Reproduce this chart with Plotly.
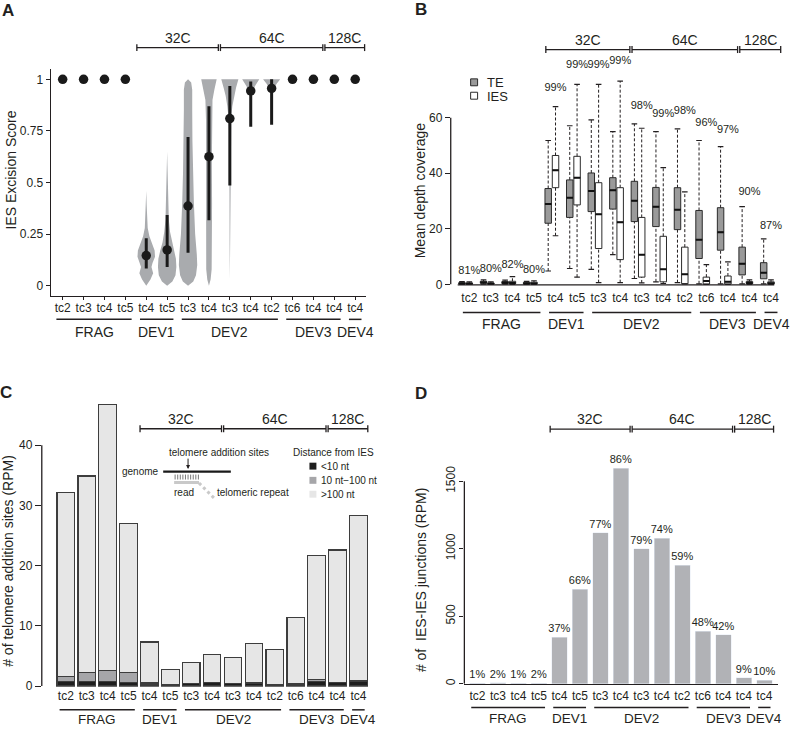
import plotly.graph_objects as go

W, H = 799, 732
FONT = "Liberation Sans, Arial, Helvetica, sans-serif"
INK = "#231f20"

samples = ["tc2", "tc3", "tc4", "tc5", "tc4", "tc5", "tc3", "tc4", "tc3", "tc4", "tc2",
           "tc6", "tc4", "tc4", "tc4"]
groups = [("FRAG", 0, 3), ("DEV1", 4, 5), ("DEV2", 6, 10), ("DEV3", 11, 13), ("DEV4", 14, 14)]
stages = [("32C", 4, 7), ("64C", 8, 12), ("128C", 13, 14)]

# ---- A: IES excision score (median dot + range line, violin outline per sample)
a_median = [1, 1, 1, 1, 0.146, 0.173, 0.386, 0.625, 0.81, 0.944, 0.956, 1, 1, 1, 1]
a_low = [None, None, None, None, 0.083, 0.091, 0.159, 0.317, 0.485, 0.77, 0.78, None, None, None, None]
a_high = [None, None, None, None, 0.23, 0.343, 0.72, 0.87, 0.968, 0.99, 1.0, None, None, None, None]
violin_y = {
    4: [0.0, 0.03, 0.06, 0.09, 0.11, 0.14, 0.17, 0.2, 0.24, 0.28, 0.33, 0.39, 0.46],
    5: [0.0, 0.02, 0.05, 0.09, 0.13, 0.17, 0.21, 0.26, 0.32, 0.4, 0.5, 0.58, 0.65],
    6: [0.0, 0.02, 0.05, 0.1, 0.15, 0.25, 0.4, 0.55, 0.7, 0.85, 0.95, 0.985, 1.0],
    7: [0.0, 0.03, 0.08, 0.2, 0.4, 0.6, 0.8, 0.9, 0.95, 0.98, 1.0],
    8: [0.03, 0.2, 0.45, 0.65, 0.75, 0.82, 0.87, 0.92, 0.96, 1.0],
    9: [0.92, 0.95, 0.975, 1.0],
    10: [0.93, 0.955, 0.98, 1.0],
}
violin_w = {
    4: [0, 0.2, 0.33, 0.25, 0.3, 0.42, 0.4, 0.3, 0.15, 0.07, 0.04, 0.02, 0],
    5: [0, 0.25, 0.4, 0.44, 0.42, 0.33, 0.22, 0.14, 0.08, 0.05, 0.03, 0.015, 0],
    6: [0, 0.25, 0.38, 0.44, 0.42, 0.34, 0.28, 0.24, 0.21, 0.2, 0.2, 0.15, 0],
    7: [0, 0.08, 0.13, 0.15, 0.15, 0.14, 0.14, 0.17, 0.26, 0.33, 0.37],
    8: [0, 0.012, 0.018, 0.025, 0.04, 0.07, 0.12, 0.2, 0.3, 0.41],
    9: [0, 0.1, 0.25, 0.41],
    10: [0, 0.1, 0.25, 0.41],
}

# ---- B: mean depth coverage, TE vs IES
pct_b = ["81%", "80%", "82%", "80%", "99%", "99%", "99%", "99%", "98%", "99%", "98%",
         "96%", "97%", "90%", "87%"]
te_low = [0, 0.1, 0.1, 0, 4.8, 5.7, 5.4, 10.7, 2.1, 0.9, 0.6, 0.2, 0.2, 0.2, 0.2]
te_q1 = [0.1, 0.4, 0.3, 0.1, 22.0, 24.1, 26.2, 27.1, 22.6, 20.8, 19.7, 9.3, 12.3, 3.4, 2.0]
te_med = [0.3, 0.7, 0.6, 0.3, 28.9, 31.2, 33.6, 33.9, 30.1, 27.9, 26.9, 16.1, 18.8, 7.4, 4.2]
te_q3 = [0.6, 1.1, 1.0, 0.7, 34.5, 37.6, 40.1, 38.4, 37.1, 34.9, 34.8, 26.6, 27.6, 13.4, 7.8]
te_high = [1.0, 1.6, 1.5, 1.1, 51.8, 57.1, 59.2, 55.0, 57.8, 55.0, 56.0, 51.8, 49.6, 28.0, 16.4]
ies_low = [0, 0, 0, 0, 17.5, 2.6, 0.6, 0.6, 0.5, 0.3, 0.2, 0, 0, 0, 0]
ies_q1 = [0.05, 0.05, 0.2, 0.1, 34.8, 28.6, 12.9, 8.9, 2.6, 0.9, 0.2, 0.1, 0.1, 0.2, 0.1]
ies_med = [0.2, 0.2, 0.5, 0.3, 41.1, 38.4, 25.2, 22.4, 10.7, 5.4, 3.6, 1.2, 0.9, 0.5, 0.4]
ies_q3 = [0.5, 0.5, 1.1, 0.8, 46.4, 46.1, 36.6, 34.8, 24.1, 17.3, 13.4, 2.6, 3.0, 1.0, 0.9]
ies_high = [0.9, 0.9, 2.8, 1.3, 64.0, 72.0, 72.0, 73.2, 56.2, 42.0, 33.3, 7.1, 8.1, 1.6, 1.6]

# ---- C: telomere addition sites by distance from IES
tel_lt10 = [0.7, 0.7, 0.82, 0.6, 0.35, 0.2, 0.4, 0.55, 0.4, 0.5, 0.25, 0.35, 0.8, 0.6, 0.8]
tel_10_100 = [0.95, 1.6, 1.75, 1.7, 0.15, 0.05, 0.05, 0.05, 0.05, 0.05, 0.03, 0.1, 0.25, 0.05, 0.05]
tel_gt100 = [30.45, 32.6, 44.13, 24.7, 6.8, 2.45, 3.5, 4.7, 4.25, 6.45, 5.77, 10.95, 20.65, 21.95, 27.45]

# ---- D: IES-IES junctions
junctions = [3, 8, 2, 3, 345, 698, 1117, 1595, 1000, 1078, 877, 387, 362, 44, 24]
pct_d = ["1%", "2%", "1%", "2%", "37%", "66%", "77%", "86%", "79%", "74%", "59%",
         "48%", "42%", "9%", "10%"]

# panel geometry in pixels: x domain, x range, y domain (bottom, top), y range
GEO = {
    "A": dict(px=(51, 368), xr=(-0.571, 14.524), py=(298, 70), yr=(-0.048, 1.048)),
    "B": dict(px=(453, 779), xr=(-0.863, 14.19), py=(291, 60), yr=(-1.54, 80.96)),
    "C": dict(px=(42, 372), xr=(-1.152, 14.562), py=(692.5, 380), yr=(-0.13, 51.35)),
    "D": dict(px=(466.7, 782), xr=(-0.636, 14.67), py=(690, 380), yr=(-5.1, 2274)),
}


def xpix(p, v):
    g = GEO[p]
    return g["px"][0] + (v - g["xr"][0]) / (g["xr"][1] - g["xr"][0]) * (g["px"][1] - g["px"][0])


def ypix(p, v):
    g = GEO[p]
    return g["py"][0] + (v - g["yr"][0]) / (g["yr"][1] - g["yr"][0]) * (g["py"][1] - g["py"][0])


shapes, annotations = [], []


def seg(x0, y0, x1, y1, width=1.3, color=INK, dash=None):
    line = dict(color=color, width=width)
    if dash:
        line["dash"] = dash
    shapes.append(dict(type="line", xref="paper", yref="paper", x0=x0 / W, x1=x1 / W,
                       y0=1 - y0 / H, y1=1 - y1 / H, line=line))


def rect(x0, y0, x1, y1, fill, border=None):
    shapes.append(dict(type="rect", xref="paper", yref="paper", x0=x0 / W, x1=x1 / W,
                       y0=1 - y1 / H, y1=1 - y0 / H, fillcolor=fill,
                       line=dict(color=border or fill, width=1 if border else 0)))


def label(x, y, text, size=12, xanchor="center", bold=False, angle=0, color=INK):
    if bold:
        text = f"<b>{text}</b>"
    annotations.append(dict(x=x / W, y=1 - y / H, xref="paper", yref="paper", text=text,
                            showarrow=False, xanchor=xanchor, yanchor="middle",
                            textangle=angle, font=dict(size=size, color=color, family=FONT)))


def decorate(p, stage_y, group_y, group_label_y, group_size=14):
    for name, a, b in stages:
        x0, x1 = xpix(p, a - 0.45), xpix(p, b + 0.45)
        seg(x0, stage_y, x1, stage_y)
        seg(x0, stage_y - 3.5, x0, stage_y + 3.5)
        seg(x1, stage_y - 3.5, x1, stage_y + 3.5)
        label((x0 + x1) / 2, stage_y - 10, name, 14)
    for name, a, b in groups:
        x0, x1 = xpix(p, a - 0.3), xpix(p, b + 0.3)
        seg(x0, group_y, x1, group_y, width=1.5)
        label((x0 + x1) / 2, group_label_y, name, group_size)


fig = go.Figure()

# ---------- A
for k in violin_y:
    ys, ws = violin_y[k], violin_w[k]
    fig.add_trace(go.Scatter(
        x=[k + w for w in ws] + [k - w for w in reversed(ws)],
        y=ys + list(reversed(ys)), fill="toself", fillcolor="#a9abae",
        mode="lines", line=dict(width=0), xaxis="x", yaxis="y", hoverinfo="skip"))
lx, ly = [], []
for i, (lo, hi) in enumerate(zip(a_low, a_high)):
    if lo is not None:
        lx += [i, i, None]
        ly += [lo, hi, None]
fig.add_trace(go.Scatter(x=lx, y=ly, mode="lines", line=dict(color="#1a1a1a", width=3),
                         xaxis="x", yaxis="y", hoverinfo="skip"))
fig.add_trace(go.Scatter(x=list(range(15)), y=a_median, mode="markers",
                         marker=dict(size=9.5, color="#1a1a1a"), xaxis="x", yaxis="y"))

# ---------- B
te_x = [i - 0.34 for i in range(15)]
ies_x = list(range(15))
for xs, lo, q1, med, q3, hi, fill in [
    (te_x, te_low, te_q1, te_med, te_q3, te_high, "#9a9a9a"),
    (ies_x, ies_low, ies_q1, ies_med, ies_q3, ies_high, "white"),
]:
    wx, wy, cx, cy, mx, my = [], [], [], [], [], []
    for p, a, b, c, d, e in zip(xs, lo, q1, med, q3, hi):
        wx += [p, p, None, p, p, None]
        wy += [d, e, None, a, b, None]
        cx += [p, p]
        cy += [a, e]
        mx += [p - 0.15, p + 0.15, None]
        my += [c, c, None]
    fig.add_trace(go.Scatter(x=wx, y=wy, mode="lines", line=dict(color=INK, width=1, dash="3px,2px"),
                             xaxis="x2", yaxis="y2", hoverinfo="skip"))
    fig.add_trace(go.Scatter(x=cx, y=cy, mode="markers",
                             marker=dict(symbol="line-ew", size=4, line=dict(color=INK, width=1.2)),
                             xaxis="x2", yaxis="y2", hoverinfo="skip"))
    fig.add_trace(go.Box(x=xs, q1=q1, median=med, q3=q3, lowerfence=q1, upperfence=q3,
                         width=0.3, fillcolor=fill, line=dict(color="#2b2b2b", width=1),
                         whiskerwidth=0, boxpoints=False, xaxis="x2", yaxis="y2", hoverinfo="skip"))
    fig.add_trace(go.Scatter(x=mx, y=my, mode="lines", line=dict(color="#111111", width=2),
                             xaxis="x2", yaxis="y2", hoverinfo="skip"))
fig.add_trace(go.Scatter(
    x=ies_x,
    y=[1.045 * max(a, b) + 1.8 for a, b in zip(te_high, ies_high)],
    text=pct_b, mode="text", textposition="top center", cliponaxis=False,
    textfont=dict(size=11, color=INK, family=FONT), xaxis="x2", yaxis="y2"))

# ---------- C
for vals, color in [(tel_lt10, "#1e1e1e"), (tel_10_100, "#a6a6a9"), (tel_gt100, "#e6e6e6")]:
    fig.add_trace(go.Bar(x=list(range(15)), y=vals, width=0.84, marker_color=color,
                         marker_line=dict(color="#3d3d3d", width=1.2), xaxis="x3", yaxis="y3"))

# ---------- D
fig.add_trace(go.Bar(x=list(range(15)), y=junctions, width=0.76, marker_color="#b1b2b6",
                     text=pct_d, textposition="outside", constraintext="none", cliponaxis=False,
                     textfont=dict(size=11, color=INK, family=FONT), xaxis="x4", yaxis="y4"))

# ---------- axis lines drawn R-style
seg(GEO["B"]["px"][0], ypix("B", 0), GEO["B"]["px"][0], ypix("B", 60))
seg(xpix("B", -0.54), ypix("B", 0) + 0.5, xpix("B", 14.15), ypix("B", 0) + 0.5)
seg(GEO["C"]["px"][0], ypix("C", 0), GEO["C"]["px"][0], ypix("C", 40))
seg(GEO["D"]["px"][0], ypix("D", 0), GEO["D"]["px"][0], ypix("D", 1500))

decorate("A", 48, 322, 335)
decorate("B", 50, 315, 327)
decorate("C", 432.3, 715.7, 725, group_size=13.5)
decorate("D", 432.7, 713.3, 724.5, group_size=13.5)

# axis titles and panel letters
label(11, 171, "IES Excision Score", 14, angle=-90)
label(423, 192, "Mean depth coverage", 14, angle=-90)
label(8.5, 565, "# of telomere addition sites (RPM)", 14, angle=-90)
label(423, 585, "# of\u00a0 IES-IES junctions (RPM)", 14, angle=-90)
for letter, x, y in [("A", 8, 11), ("B", 423, 9.5), ("C", 6.5, 396), ("D", 423, 397)]:
    label(x, y, letter, 17, bold=True)

# B legend
rect(473, 79.5, 480, 86.5, "#9a9a9a", "#2b2b2b")
rect(473, 93, 480, 100, "white", "#2b2b2b")
label(487, 83, "TE", 13, xanchor="left")
label(487, 97, "IES", 13, xanchor="left")

# C legend
label(335, 456, "Distance from IES", 10)
for yy, color, txt in [(470, "#1e1e1e", "<10 nt"), (484.3, "#a6a6a9", "10 nt\u2212100 nt"),
                       (498.3, "#e6e6e6", ">100 nt")]:
    rect(311, yy - 3.5, 318, yy + 3.5, color)
    label(321, yy, txt, 10, xanchor="left")

# C schematic
label(220, 456, "telomere addition sites", 10)
annotations.append(dict(x=189 / W, y=1 - 473 / H, xref="paper", yref="paper", text="",
                        showarrow=True, ax=0, ay=-12, arrowhead=2, arrowsize=0.8,
                        arrowwidth=1, arrowcolor=INK))
label(162, 475, "genome", 10, xanchor="right")
seg(164, 475.5, 232, 475.5, width=2.2, color="#1a1a1a")
for k in range(10):
    seg(176 + k * 2.6, 478.5, 176 + k * 2.6, 483.5, width=0.8, color="#555555")
seg(175, 486.5, 200, 486.5, width=3, color="#c9c9c9")
seg(200, 487, 216, 503, width=3, color="#c9c9c9", dash="dot")
label(185, 497, "read", 10)
label(254, 497, "telomeric repeat", 10)

tick_font = dict(size=12, color=INK, family=FONT)


def xax(p, showline=False, ticks="", standoff=0):
    g = GEO[p]
    return dict(domain=[g["px"][0] / W, g["px"][1] / W], range=list(g["xr"]),
                tickvals=list(range(15)), ticktext=samples, tickfont=tick_font,
                ticks=ticks, ticklen=3, tickcolor=INK, showline=showline, linecolor=INK,
                linewidth=1.3, showgrid=False, zeroline=False, fixedrange=True,
                ticklabelstandoff=standoff)


def yax(p, vals, text, ticklen, showline=False, angle=0):
    g = GEO[p]
    return dict(domain=[1 - g["py"][0] / H, 1 - g["py"][1] / H], range=list(g["yr"]),
                tickvals=vals, ticktext=text, tickfont=tick_font, tickangle=angle,
                ticks="outside", ticklen=ticklen, tickcolor=INK, showline=showline,
                linecolor=INK, linewidth=1.3, showgrid=False, zeroline=False, fixedrange=True)


fig.update_layout(
    width=W, height=H, margin=dict(l=0, r=0, t=0, b=0),
    paper_bgcolor="white", plot_bgcolor="white", showlegend=False,
    font=dict(family=FONT, color=INK, size=12), barmode="stack", boxmode="overlay",
    xaxis=dict(xax("A", showline=True, ticks="outside", standoff=-2), anchor="y"),
    yaxis=dict(yax("A", [0, 0.25, 0.5, 0.75, 1], ["0", "0.25", "0.5", "0.75", "1"], 4, showline=True),
               anchor="x"),
    xaxis2=dict(xax("B"), anchor="y2"),
    yaxis2=dict(yax("B", [0, 20, 40, 60], ["0", "20", "40", "60"], 5), anchor="x2"),
    xaxis3=dict(xax("C"), anchor="y3"),
    yaxis3=dict(yax("C", [0, 10, 20, 30, 40], ["0", "10", "20", "30", "40"], 6), anchor="x3"),
    xaxis4=dict(xax("D", showline=True), anchor="y4"),
    yaxis4=dict(yax("D", [0, 500, 1000, 1500], ["0", "500", "1000", "1500"], 4, angle=-90),
                anchor="x4"),
    shapes=shapes, annotations=annotations,
)

# drop the browser's default 8px page margin so the figure sits at the window origin
fig.write_html("out.html", config={"displayModeBar": False},
               post_script="document.body.style.margin='0';")
